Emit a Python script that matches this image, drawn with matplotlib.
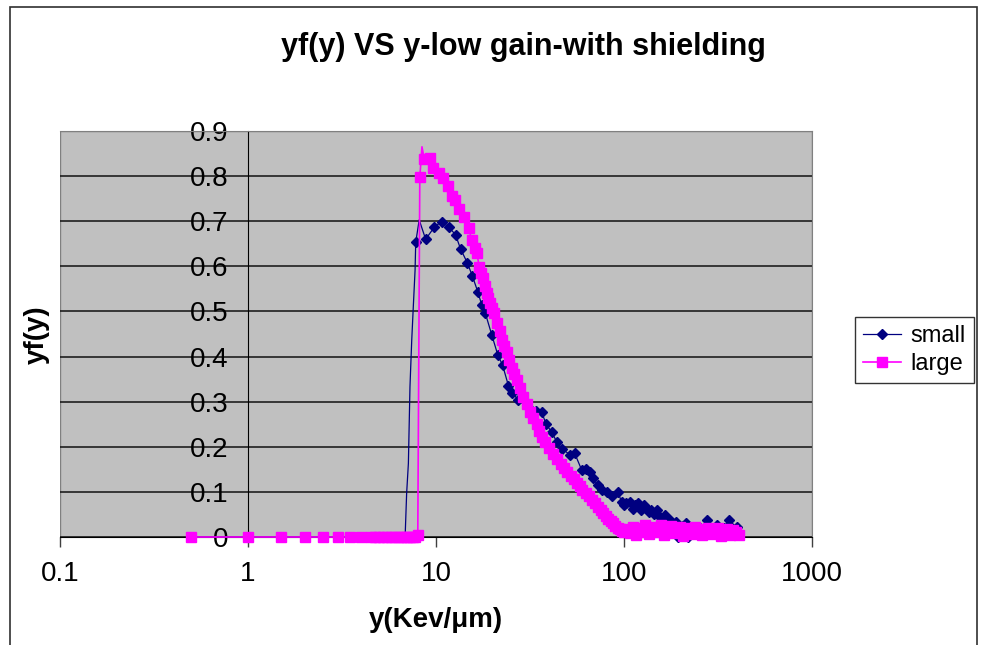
import matplotlib
matplotlib.use('Agg')
import matplotlib.pyplot as plt
import numpy as np
from matplotlib.patches import Rectangle

# yf(y) spectra
large_x = [0.5, 1.0, 1.5, 2.0, 2.5, 3.0, 3.5, 4.0, 4.5, 4.75, 5.0, 5.25, 5.5, 5.75,
           6.0, 6.25, 6.5, 6.75, 7.0, 7.25, 7.5, 7.75, 8.0,
           8.2, 8.42, 8.67, 9.3, 9.6, 10.4, 10.9, 11.6, 12.2, 12.6, 13.3, 14.1, 14.9,
           15.5, 16.1, 16.5, 17.0, 17.4, 17.8, 18.2, 18.6, 19.0, 19.3, 19.8, 20.4,
           21.1, 21.8, 22.4, 23.1, 23.8, 24.5, 25.3, 26.1, 26.9, 28.0, 29.1, 30.3,
           31.6, 33.0, 34.3, 35.4, 36.5, 38.0, 40.0, 42.0, 44.0, 46.0, 48.0, 50.0,
           52.0, 54.0, 56.0, 58.0, 60.0, 62.5, 65.0, 67.5, 70.0, 72.5, 75.0, 77.5,
           80.0, 82.5, 85.0, 87.5, 90.0, 92.5, 95.0, 97.5, 100.0,
           104, 108, 112, 116, 120, 125, 130, 135, 140, 146, 152, 158, 164, 170,
           177, 184, 191, 198, 206, 214, 222, 231, 240, 250, 260, 270, 281, 292,
           304, 316, 328, 341, 354, 368, 382, 396, 410]
large_y = [0, 0, 0, 0, 0, 0, 0, 0, 0, 0, 0, 0, 0, 0,
           0, 0, 0, 0, 0, 0, 0, 0, 0.005,
           0.797, 0.865, 0.837, 0.84, 0.817, 0.808, 0.795, 0.778, 0.755, 0.747, 0.727,
           0.709, 0.684, 0.659, 0.64, 0.629, 0.598, 0.586, 0.574, 0.557, 0.54, 0.53,
           0.518, 0.508, 0.496, 0.475, 0.456, 0.437, 0.424, 0.41, 0.392, 0.374,
           0.361, 0.348, 0.33, 0.311, 0.295, 0.278, 0.264, 0.25, 0.236, 0.222,
           0.21, 0.198, 0.185, 0.172, 0.162, 0.152, 0.143, 0.135, 0.128, 0.12,
           0.112, 0.105, 0.097, 0.09, 0.082, 0.075, 0.067, 0.06, 0.053, 0.047,
           0.041, 0.035, 0.03, 0.024, 0.02, 0.017, 0.014, 0.012,
           0.018, 0.008, 0.022, 0.004, 0.02, 0.012, 0.026, 0.006, 0.018, 0.022, 0.01,
           0.027, 0.004, 0.018, 0.024, 0.008, 0.014, 0.022, 0.003, 0.016, 0.02, 0.007,
           0.022, 0.012, 0.004, 0.018, 0.02, 0.006, 0.014, 0.019, 0.003, 0.012, 0.017,
           0.005, 0.015, 0.01, 0.004]
large_line_only = [8.42]

small_x = [0.5, 1.0, 1.5, 2.0, 2.5, 3.0, 3.5, 4.0, 4.5, 5.0, 5.5, 6.0, 6.5, 6.85,
           6.98, 7.13, 7.27, 7.43, 7.58, 7.74, 7.8, 8.14, 8.81, 9.8, 10.7, 11.7,
           12.7, 13.5, 14.7, 15.6, 16.7, 17.5, 18.3, 19.8, 21.3, 22.6, 24.3, 25.5,
           27.3, 30.0, 32.0, 34.0, 36.5, 38.5, 41.2, 44.0, 47.0, 51.7, 54.6, 59.5,
           63.0, 65.8, 68.0, 72.9, 76.0, 80.8, 86.0, 92.8, 97.0, 100, 103, 107, 111,
           115, 119, 123, 127, 131, 136, 140, 145, 149, 155, 160, 165, 170, 175,
           182, 190, 194, 198, 206, 215, 218, 225, 235, 245, 255, 265, 275, 290,
           311, 325, 340, 360, 375, 397]
small_y = [0, 0, 0, 0, 0, 0, 0, 0, 0, 0, 0, 0, 0, 0,
           0.097, 0.163, 0.333, 0.437, 0.514, 0.592, 0.653, 0.703, 0.66, 0.687,
           0.699, 0.687, 0.67, 0.639, 0.607, 0.579, 0.543, 0.515, 0.496, 0.448,
           0.404, 0.381, 0.335, 0.32, 0.304, 0.3, 0.282, 0.28, 0.277, 0.25, 0.233,
           0.21, 0.195, 0.182, 0.186, 0.149, 0.15, 0.145, 0.13, 0.115, 0.105, 0.1,
           0.09, 0.1, 0.078, 0.07, 0.075, 0.078, 0.062, 0.07, 0.075, 0.06, 0.07,
           0.064, 0.055, 0.06, 0.05, 0.06, 0.045, 0.04, 0.048, 0.035, 0.038, 0.025,
           0.034, 0.0, 0.02, 0.025, 0.03, 0.0, 0.018, 0.022, 0.015, 0.02, 0.012,
           0.038, 0.018, 0.027, 0.015, 0.02, 0.038, 0.02, 0.023]
small_line_only = [6.98, 7.13, 7.27, 7.43, 7.58, 7.74, 8.14]

xticks = [0.1, 1, 10, 100, 1000]
xtick_labels = ['0.1', '1', '10', '100', '1000']
yticks = [0, 0.1, 0.2, 0.3, 0.4, 0.5, 0.6, 0.7, 0.8, 0.9]
ytick_labels = ['0', '0.1', '0.2', '0.3', '0.4', '0.5', '0.6', '0.7', '0.8', '0.9']

plt.rcParams['font.family'] = ['Liberation Sans', 'DejaVu Sans']

W, H = 983, 645
fig = plt.figure(figsize=(W / 100, H / 100), dpi=100)
fig.patch.set_facecolor('white')

# chart area border
fig.add_artist(Rectangle((10 / W, -0.02), (977 - 10) / W, 1.02 - 7 / H,
                         transform=fig.transFigure, fill=False,
                         edgecolor='#303030', linewidth=1.2))

ax = fig.add_axes([60 / W, 1 - 537 / H, (812 - 60) / W, (537 - 131) / H])
ax.set_facecolor('#C0C0C0')
ax.set_xscale('log')
ax.set_xlim(0.1, 1000)
ax.set_ylim(0, 0.9)

ax.yaxis.grid(True, color='#111111', linewidth=1.1)
ax.set_axisbelow(True)

small_mark = ~np.isin(small_x, small_line_only)
large_mark = ~np.isin(large_x, large_line_only)

ln_small, = ax.plot(small_x, small_y, color='#000080', linewidth=0.9,
                    marker='D', markersize=4.8, markevery=list(small_mark),
                    clip_on=False, zorder=3, label='small')
ln_large, = ax.plot(large_x, large_y, color='#FF00FF', linewidth=1.2,
                    marker='s', markersize=6.8, markevery=list(large_mark),
                    clip_on=False, zorder=4, label='large')

# axes look of the old spreadsheet chart
for side in ['top', 'right']:
    ax.spines[side].set_color('#808080')
ax.spines['left'].set_position(('data', 1))
ax.spines['left'].set_color('black')
ax.spines['left'].set_zorder(2.5)
ax.spines['bottom'].set_color('black')
ax.add_patch(Rectangle((0, 0), 1, 1, transform=ax.transAxes, fill=False,
                       edgecolor='#808080', linewidth=1, zorder=0.5))

ax.set_xticks(xticks)
ax.set_xticklabels(xtick_labels)
ax.xaxis.set_minor_locator(matplotlib.ticker.NullLocator())
ax.set_yticks(yticks)
ax.set_yticklabels(ytick_labels)
ax.tick_params(axis='x', length=7, width=1, color='#404040', pad=10, labelsize=20)
ax.tick_params(axis='y', length=0, pad=14, labelsize=20)

fig.text(523 / W, 1 - 47 / H, 'yf(y) VS y-low gain-with shielding',
         ha='center', va='center', fontsize=22, fontweight='bold')
fig.text(436 / W, 1 - 620 / H, 'y(Kev/\u03bcm)', ha='center', va='center',
         fontsize=20, fontweight='bold')
fig.text(37 / W, 1 - 335 / H, 'yf(y)', ha='center', va='center', rotation=90,
         fontsize=20, fontweight='bold')

leg = fig.legend(handles=[ln_small, ln_large], loc='center left',
                 bbox_to_anchor=(855 / W, 1 - 350 / H), fontsize=17,
                 frameon=True, fancybox=False, edgecolor='black',
                 handlelength=1.6, handletextpad=0.4, borderpad=0.35,
                 labelspacing=0.25, borderaxespad=0)
leg.get_frame().set_linewidth(1.0)

fig.savefig('out.png', dpi=100, facecolor='white')
